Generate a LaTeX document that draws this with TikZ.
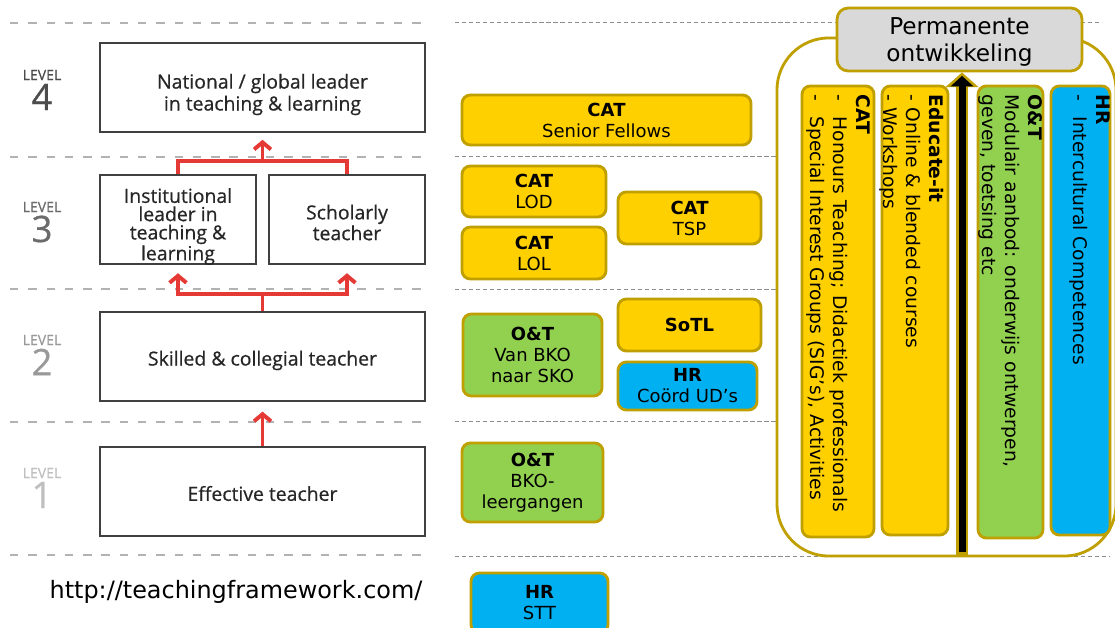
\documentclass[tikz,border=0pt]{standalone}
\usepackage{fontspec}
\setmainfont{DejaVu Sans}
\newfontfamily\opensans{Open Sans}[FakeBold=0.6]
\usetikzlibrary{positioning,calc,arrows.meta}

\definecolor{catyellow}{RGB}{255,208,0}
\definecolor{otgreen}{RGB}{146,208,80}
\definecolor{hrblue}{RGB}{0,176,240}
\definecolor{goldline}{RGB}{191,160,0}
\definecolor{permgrey}{RGB}{217,217,217}
\definecolor{lvlred}{RGB}{229,57,53}

\tikzset{
  lvlbox/.style={draw=black!75, line width=1.1pt, fill=white, inner sep=0pt, minimum height=2.225cm},
  lvltext/.style={inner sep=0pt, align=center, text=black!85, font=\opensans\fontsize{13.8}{15.6}\selectfont},
  lvltag/.style={inner sep=0pt, font=\opensans\fontsize{10}{10}\selectfont},
  lvlnum/.style={inner sep=0pt, font=\opensans\fontsize{26}{26}\selectfont},
  lvlline/.style={draw=lvlred, line width=2.8pt},
  lvlarrow/.style={lvlline, -{Straight Barb[length=5pt,width=12pt]}},
  lvldash/.style={draw=black!30, line width=1.4pt, dash pattern=on 6pt off 7pt},
  grpdash/.style={draw=black!45, line width=0.6pt, dash pattern=on 3pt off 2pt},
  grpbox/.style={draw=goldline, line width=2pt, rounded corners=6pt, inner sep=0pt,
    align=center, font=\fontsize{12.8}{15}\selectfont},
  catbox/.style={grpbox, fill=catyellow},
  otbox/.style={grpbox, fill=otgreen},
  hrbox/.style={grpbox, fill=hrblue},
  coltext/.style={rotate=-90, anchor=north west, inner sep=0pt, align=left,
    font=\fontsize{13.3}{16.4}\selectfont}
}

\begin{document}
\begin{tikzpicture}[x=0.025cm, y=-0.025cm]
  \useasboundingbox (0,0) rectangle (1115,628);

  % level separators
  \foreach \ly in {23,157,289,422,555}
    \draw[lvldash] (10,\ly) -- (425,\ly);
  \draw[grpdash] (455,22) -- (1100,22);
  \foreach \ly in {156,289,421}
    \draw[grpdash] (455,\ly) -- (780,\ly);
  \draw[grpdash] (455,556) -- (1110,556);

  % level labels
  \foreach \n/\ly/\lc in {4/75/black!70, 3/207/black!58, 2/340/black!40, 1/473/black!25} {
    \node[lvltag, text=\lc] (tag\n) at (42,\ly) {LEVEL};
    \node[lvlnum, text=\lc] (num\n) at (42,\ly+22) {\n};
  }

  % teaching framework levels
  \node[lvlbox, minimum width=8.125cm] (lvlfour) at (262.5,87.5) {};
  \node[lvlbox, minimum width=3.9cm] (lvlthreeA) at (178,219.5) {};
  \node[lvlbox, minimum width=3.9cm] (lvlthreeB) at (347,219.5) {};
  \node[lvlbox, minimum width=8.125cm] (lvltwo) at (262.5,356.5) {};
  \node[lvlbox, minimum width=8.125cm] (lvlone) at (262.5,491.5) {};

  \node[lvltext] (lvlfourtxt) at ($(lvlfour)+(0,7)$) {National / global leader\\in teaching \& learning};
  \node[lvltext, font=\opensans\fontsize{13.8}{13}\selectfont] (lvlthreeAtxt) at ($(lvlthreeA)+(0,7)$)
    {Institutional\\leader in\\teaching \&\\learning};
  \node[lvltext, font=\opensans\fontsize{13.8}{13}\selectfont] (lvlthreeBtxt) at ($(lvlthreeB)+(0,3)$)
    {Scholarly\\teacher};
  \node[lvltext] (lvltwotxt) at ($(lvltwo)+(0,4)$) {Skilled \& collegial teacher};
  \node[lvltext] (lvlonetxt) at ($(lvlone)+(0,2)$) {Effective teacher};

  \coordinate (jfour) at (262.5,161);
  \coordinate (jthree) at (262.5,294);
  \draw[lvlline] (lvlthreeA.north) |- (jfour) -| (lvlthreeB.north);
  \draw[lvlarrow, shorten >=5pt] (jfour) -- (lvlfour.south);
  \draw[lvlline] (lvltwo.north) -- (jthree);
  \draw[lvlarrow, shorten >=6pt] (jthree) -| (lvlthreeA.south);
  \draw[lvlarrow, shorten >=6pt] (jthree) -| (lvlthreeB.south);
  \draw[lvlarrow, shorten >=7pt] (lvlone.north) -- (lvltwo.south);

  \node[font=\fontsize{17}{20}\selectfont, inner sep=0pt] (fwurl) at (236,592) {http://teachingframework.com/};

  % permanente ontwikkeling
  \node[draw=goldline, line width=2pt, fill=white, rounded corners=1.3cm,
    minimum width=8.475cm, minimum height=12.95cm, inner sep=0pt] (permbox) at (946.5,297) {};
  \node[grpbox, fill=permgrey, rounded corners=8pt, minimum width=6.125cm, minimum height=1.575cm,
    text depth=0pt, font=\fontsize{16.5}{19.5}\selectfont] (permdev) at (959.5,39.5) {Permanente\\ontwikkeling};

  \node[catbox, minimum width=1.8cm, minimum height=11.275cm] (colcat) at (838,311.5) {};
  \node[catbox, minimum width=1.65cm, minimum height=11.225cm] (coledu) at (915,310.5) {};
  \node[otbox, minimum width=1.625cm, minimum height=11.3cm] (colot) at (1010.5,312) {};
  \node[hrbox, minimum width=1.475cm, minimum height=11.225cm] (colhr) at (1080.5,310.5) {};

  \node[coltext] (txtcat) at ($(colcat.north east)+(-5,10)$)
    {\textbf{CAT}\\-\hspace{0.8em}Honours Teaching; Didactiek professionals\\-\hspace{0.8em}Special Interest Groups (SIG’s), Activities};
  \node[coltext] (txtedu) at ($(coledu.north east)+(-5,10)$)
    {\textbf{Educate-it}\\- Online \& blended courses\\- Workshops};
  \node[coltext] (txtot) at ($(colot.north east)+(-2,10)$)
    {\textbf{O\&T}\\Modulair aanbod: onderwijs ontwerpen,\\geven, toetsing etc};
  \node[coltext] (txthr) at ($(colhr.north east)+(-1,10)$)
    {\textbf{HR}\\-\hspace{0.8em}Intercultural Competences};

  \coordinate (arrfoot) at (962,555);
  \draw[draw=goldline, line width=8pt, -{Triangle[length=10.5pt,width=23pt]}] (arrfoot) -- (arrfoot |- permdev.south);
  \draw[draw=black, line width=5pt, shorten <=2pt, shorten >=2.5pt, -{Triangle[length=7.5pt,width=16pt]}] (arrfoot) -- (arrfoot |- permdev.south);

  % activities per level
  \node[catbox, minimum width=7.225cm, minimum height=1.25cm] (catsenior) at (606.5,120) {\textbf{CAT}\\Senior Fellows};
  \node[catbox, minimum width=3.6cm, minimum height=1.275cm] (catlod) at (534,191.5) {\textbf{CAT}\\LOD};
  \node[catbox, minimum width=3.6cm, minimum height=1.3cm] (catlol) at (534,253) {\textbf{CAT}\\LOL};
  \node[catbox, minimum width=3.575cm, minimum height=1.3cm] (cattsp) at (689.5,218) {\textbf{CAT}\\TSP};
  \node[catbox, minimum width=3.575cm, minimum height=1.3cm] (sotl) at (689.5,325) {\textbf{SoTL}};
  \node[hrbox, minimum width=3.475cm, minimum height=1.2cm] (hrcoord) at (687.5,386) {\textbf{HR}\\Coörd UD’s};
  \node[otbox, minimum width=3.475cm, minimum height=2.05cm] (otsko) at (532.5,355) {\textbf{O\&T}\\Van BKO\\naar SKO};
  \node[otbox, minimum width=3.525cm, minimum height=1.975cm] (otbko) at (532.5,482.5) {\textbf{O\&T}\\BKO-\\leergangen};
  \node[hrbox, minimum width=3.425cm, minimum height=1.5cm] (hrstt) at (539.5,603) {\textbf{HR}\\STT};
\end{tikzpicture}
\end{document}
